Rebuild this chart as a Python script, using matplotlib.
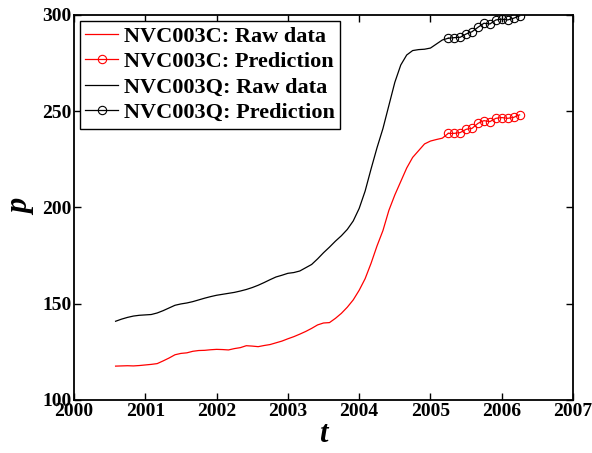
import numpy as np
import matplotlib
matplotlib.use("Agg")
import matplotlib.pyplot as plt

plt.rcParams['font.family'] = ['Liberation Serif', 'DejaVu Serif']

# monthly raw data, Aug 2000 .. Apr 2005
t_raw = 2000 + np.arange(7, 7 + 57) / 12.0
c_raw = [117.6, 117.7, 117.8, 117.7, 117.9, 118.2, 118.5, 118.9, 120.3, 121.8,
         123.5, 124.2, 124.5, 125.3, 125.7, 125.8, 126.1, 126.3, 126.2, 126.0,
         126.7, 127.2, 128.2, 128.0, 127.7, 128.3, 128.8, 129.7, 130.6, 131.8,
         132.9, 134.2, 135.6, 137.2, 139.0, 140.0, 140.2, 142.4, 145.0, 148.2,
         152.0, 157.0, 163.0, 171.0, 180.0, 188.0, 198.5, 206.5, 213.5, 220.5,
         226.0, 229.5, 233.0, 234.5, 235.3, 236.0, 238.5]
q_raw = [140.9, 142.0, 142.9, 143.6, 144.0, 144.2, 144.4, 145.2, 146.4, 147.8,
         149.2, 149.9, 150.4, 151.1, 152.0, 152.9, 153.7, 154.4, 154.9, 155.4,
         155.9, 156.6, 157.4, 158.4, 159.6, 161.0, 162.5, 163.9, 164.8, 165.8,
         166.2, 167.0, 168.7, 170.4, 173.3, 176.5, 179.4, 182.5, 185.3, 188.6,
         193.0, 199.5, 208.5, 220.0, 231.0, 241.0, 253.0, 265.0, 274.0, 279.2,
         281.5, 282.0, 282.2, 282.8, 284.9, 287.0, 287.9]

# monthly prediction, Apr 2005 .. Apr 2006
t_pred = 2005 + np.arange(3, 16) / 12.0
c_pred = [238.5, 238.5, 238.9, 240.6, 241.1, 243.7, 245.1, 244.6, 246.3, 246.7,
          246.3, 246.8, 248.1]
q_pred = [287.9, 288.2, 288.4, 290.1, 291.3, 293.6, 295.7, 295.3, 297.4, 297.8,
          297.4, 298.3, 299.5]

fig = plt.figure(figsize=(5.92, 4.53), dpi=100)
ax = fig.add_axes([0.125, 0.117, 0.843, 0.85])

ax.plot(t_raw, c_raw, color='red', lw=0.9, label='NVC003C: Raw data')
ax.plot(t_pred, c_pred, color='red', lw=0.9, marker='o', ms=6, mfc='none',
        mew=0.8, label='NVC003C: Prediction')
ax.plot(t_raw, q_raw, color='black', lw=0.9, label='NVC003Q: Raw data')
ax.plot(t_pred, q_pred, color='black', lw=0.9, marker='o', ms=6, mfc='none',
        mew=0.8, label='NVC003Q: Prediction')

ax.set_xlim(2000, 2007)
ax.set_ylim(100, 300)
ax.set_xticks(range(2000, 2008))
ax.set_yticks([100, 150, 200, 250, 300])
ax.tick_params(direction='in', top=True, right=True, length=5, width=1,
               labelsize=14, pad=2)
for lab in ax.get_xticklabels() + ax.get_yticklabels():
    lab.set_fontweight('bold')
for s in ax.spines.values():
    s.set_linewidth(1.3)

ax.set_xlabel('t', fontsize=22, fontweight='bold', style='italic', labelpad=0)
ax.set_ylabel('p', fontsize=22, fontweight='bold', style='italic', labelpad=4)

leg = ax.legend(loc='upper left', prop={'weight': 'bold', 'size': 16},
                frameon=True, fancybox=False, edgecolor='black', framealpha=1,
                borderaxespad=0.25, handlelength=1.5, handletextpad=0.25,
                labelspacing=0.22, borderpad=0.25)
leg.get_frame().set_linewidth(1.0)

fig.savefig('out.png', dpi=100)
